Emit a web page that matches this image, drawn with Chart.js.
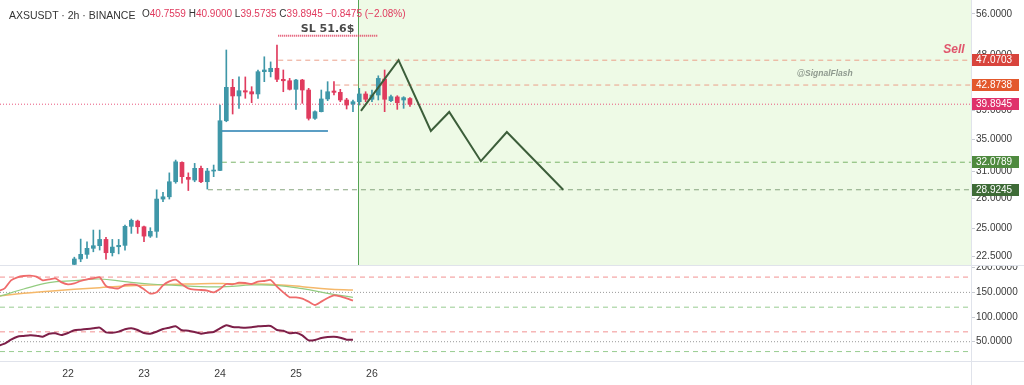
<!DOCTYPE html>
<html>
<head>
<meta charset="utf-8">
<script src="https://cdn.jsdelivr.net/npm/chart.js@4.4.1/dist/chart.umd.min.js"></script>
<style>
  body{margin:0;background:#fff;width:1024px;height:385px;overflow:hidden;position:relative;font-family:"Liberation Sans",Arial,sans-serif}
  canvas{position:absolute;left:0}
  #top{top:0}
  #bot{top:265px}
  .rule{position:absolute;background:#e0e3eb}
  #hdr{position:absolute;left:9px;top:8px;white-space:nowrap;color:#333;line-height:12px}
  #hdr .t{font-size:10.5px}
  #hdr .o{font-size:10px;position:absolute;left:133px;top:0}
  #hdr .o b{font-weight:normal;color:#e0395d}
</style>
</head>
<body>
<canvas id="top" width="1024" height="265"></canvas>
<canvas id="bot" width="1024" height="120"></canvas>
<div class="rule" style="left:0;top:265px;width:1024px;height:1px"></div>
<div class="rule" style="left:0;top:361px;width:1024px;height:1px"></div>
<div class="rule" style="left:971px;top:0;width:1px;height:385px"></div>
<div id="hdr"><span class="t">AXSUSDT · 2h · BINANCE</span><span class="o">O<b>40.7559</b> H<b>40.9000</b> L<b>39.5735</b> C<b>39.8945</b> <b>−0.8475 (−2.08%)</b></span></div>
<script>
// 2h candles, x = bar index counted from 22 Jan 00:00
const candleStart = 1;
const open  = [21.85,22.30,22.69,23.21,23.44,24.00,22.83,23.35,23.47,25.21,25.71,25.17,24.30,24.74,27.93,28.17,29.81,32.06,30.31,30.00,31.35,29.81,31.03,31.10,37.49,42.51,41.15,41.97,41.81,41.46,45.08,45.08,45.66,43.80,43.57,42.19,43.69,42.08,37.83,38.79,40.69,41.92,41.71,40.53,39.92,40.27,41.46,40.64,41.30,43.85,40.43,41.00,40.53,40.7559];
const high  = [22.45,24.03,23.79,24.86,24.86,24.18,24.00,24.00,25.33,25.91,25.81,25.24,25.08,28.92,28.65,30.82,32.34,32.13,30.82,31.94,31.62,31.35,31.74,39.77,48.91,43.80,44.20,44.20,42.61,45.37,47.68,46.77,49.84,45.37,43.96,43.80,43.80,42.35,38.93,42.08,43.42,43.42,42.19,40.79,40.53,42.35,41.81,42.08,44.39,45.37,41.30,41.19,41.04,40.90];
const low   = [21.75,22.07,22.35,22.91,23.06,22.29,22.55,22.73,23.06,24.55,24.55,23.79,24.18,24.18,27.65,27.93,29.64,29.64,28.84,29.81,29.70,29.00,30.38,31.07,37.35,38.45,39.28,40.79,40.12,40.79,43.42,44.20,43.42,41.81,42.08,39.13,40.03,37.59,37.69,38.75,40.43,41.30,40.27,39.18,38.79,39.77,40.27,40.27,40.53,38.79,40.27,39.13,39.28,39.5735];
const close = [22.30,22.69,23.21,23.44,24.00,22.83,23.32,23.47,25.21,25.78,25.17,24.30,24.74,27.93,28.17,29.81,32.13,30.38,30.08,31.35,29.81,31.03,31.15,37.49,42.51,41.15,41.97,41.76,41.46,45.08,45.37,45.66,43.80,43.57,42.19,43.69,42.08,37.83,38.79,40.69,41.81,41.71,40.53,39.77,40.27,41.46,40.64,41.30,43.96,40.64,41.04,40.12,40.89,39.8945];

const dayTicks  = [0,12,24,36,48];
const dayLabels = ['22','23','24','25','26'];
const priceTicks = [56,48,39,35,31,28,25,22.5];
const oscTicks = [200,150,100,50];

// lower pane, one value per bar from bar -11
const indStart = -11;
const rsi = [152.8,158.2,174.4,180.5,183.2,183.9,181.8,174.4,176.4,178.5,170.4,166.3,168.3,173.1,176.4,178.5,180.5,162.9,158.9,158.2,165.0,166.3,164.3,156.2,147.4,150.1,164.3,172.4,175.8,166.3,158.2,155.5,154.8,153.5,150.1,156.8,167.0,166.3,169.7,169.0,167.0,171.7,173.1,175.1,161.6,150.1,140.0,140.0,137.3,131.2,124.4,131.2,138.6,144.0,142.0,137.9,133.2];
const osc = [42.0,46.0,54.1,60.2,61.6,62.9,62.3,60.2,66.3,67.0,63.6,67.7,73.1,74.4,75.8,77.1,78.5,69.0,68.3,70.4,75.1,77.1,73.7,67.7,66.3,70.4,75.8,78.5,81.2,73.1,72.4,69.7,66.3,68.3,69.7,77.1,83.2,79.8,79.1,78.5,79.1,81.2,81.9,81.9,73.7,72.4,67.0,68.3,62.9,52.8,53.5,57.5,59.5,60.2,58.2,54.1,54.1];
const maX    = [-11,-7,-3,1,5,9,13,17,21,25,29,33,37,41,45];
const maFast = [141.3,156.8,169.7,173.7,177.1,171.7,167.0,164.3,161.6,161.6,165.0,164.3,157.5,148.1,140.0];
const maSlow = [142.7,148.1,152.1,156.2,159.6,162.9,165.0,166.3,167.7,167.7,167.0,165.6,161.6,156.8,154.8];
const oscUpper = [181,150,120];
const oscLower = [70,50,30];

// drawings
const zzX = [46.26,52.2,57.3,60.2,65.2,69.3,78.2];
const zzY = [38.9,47.07,36.07,38.75,32.2,35.93,28.92];
const slPrice = 51.6, slFrom = 33.2, slTo = 48.95;
const sellPrice = 47.0703, sellFrom = 33.2;
const midPrice = 42.8738, midFrom = 42.2;
const lastPrice = 39.8945;
const boxPrice = 36.07, boxFrom = 24.3, boxTo = 41.05;
const tp1Price = 32.0789, tp1From = 24.3;
const tp2Price = 28.9245, tp2From = 22.1;
const forecastStart = 45.8;
const tagValues = [47.0703,42.8738,39.8945,32.0789,28.9245];
const tagColors = ['#d8443c','#e3582c','#df326b','#4f8a3f','#3e6b37'];

const X_MIN = -10.74, X_MAX = 142.6;
const UP = '#3f97a8', DN = '#e03b5e';
const FONT = 'Liberation Sans';

const idx = open.map((_, k) => candleStart + k);
const colors = open.map((o, k) => close[k] >= o ? UP : DN);
const bodies = idx.map((x, k) => ({x, y: [Math.min(open[k], close[k]), Math.max(open[k], close[k])]}));
const wicks  = idx.map((x, k) => ({x, y: [low[k], high[k]]}));
const seg = (a, b, v) => [{x: a, y: v}, {x: b, y: v}];

function level(data, color, dash, width){
  return {type:'line', data, borderColor:color, borderDash:dash, borderWidth:width||1, pointRadius:0};
}

const shade = {
  id:'shade',
  beforeDatasetsDraw(chart){
    const {ctx, chartArea:a, scales:{x}} = chart;
    const px = x.getPixelForValue(forecastStart);
    ctx.save();
    ctx.fillStyle = '#eefae6';
    ctx.fillRect(px, a.top, a.right - px, a.bottom - a.top);
    ctx.strokeStyle = '#55a455';
    ctx.lineWidth = 1;
    ctx.beginPath(); ctx.moveTo(Math.round(px)+0.5, a.top); ctx.lineTo(Math.round(px)+0.5, a.bottom); ctx.stroke();
    ctx.restore();
  },
  afterDatasetsDraw(chart){
    const {ctx, scales:{x, y}} = chart;
    ctx.save();
    ctx.textBaseline = 'alphabetic';
    ctx.fillStyle = '#4a4a4a';
    ctx.font = 'bold 11px "DejaVu Sans"';
    ctx.textAlign = 'center';
    ctx.fillText('SL 51.6$', x.getPixelForValue(41), y.getPixelForValue(slPrice) - 4);
    ctx.textBaseline = 'middle';
    ctx.fillStyle = '#e0566d';
    ctx.font = 'italic bold 12px ' + FONT;
    ctx.textAlign = 'right';
    ctx.fillText('Sell', x.getPixelForValue(141.6), y.getPixelForValue(48.9));
    ctx.fillStyle = '#8f9a8f';
    ctx.font = 'italic bold 8.5px ' + FONT;
    ctx.textAlign = 'center';
    ctx.fillText('@SignalFlash', x.getPixelForValue(119.5), y.getPixelForValue(44.69));
    ctx.restore();
  }
};

const tags = {
  id:'tags',
  afterDraw(chart){
    const {ctx, chartArea:a, scales:{y}} = chart;
    ctx.save();
    ctx.font = '10px ' + FONT;
    ctx.textBaseline = 'middle';
    tagValues.forEach((v, k) => {
      const py = Math.round(y.getPixelForValue(v));
      ctx.fillStyle = tagColors[k];
      ctx.fillRect(a.right, py - 6, 48, 12);
      ctx.fillStyle = '#fff';
      ctx.fillText(v.toFixed(4), a.right + 5, py + 0.5);
    });
    ctx.restore();
  }
};

const yAxisFit = s => { s.width = 53; s.paddingTop = 0; s.paddingBottom = 0; };
const tickStyle = {color:'#3a3a3a', padding:1, autoSkip:false, font:{family:FONT, size:10}, callback: v => Number(v).toFixed(4)};
const yGrid = {drawOnChartArea:false, tickLength:4, tickColor:'#c9ccd3'};

new Chart(document.getElementById('top'), {
  type:'bar',
  data:{datasets:[
    {type:'line', data: zzX.map((x, k) => ({x, y: zzY[k]})), borderColor:'#3c5e3a', borderWidth:2, pointRadius:0},
    {data: bodies, backgroundColor: colors, barThickness:4, grouped:false, minBarLength:1, borderWidth:0},
    {data: wicks, backgroundColor: colors, barThickness:1, grouped:false, borderWidth:0},
    level(seg(slFrom, slTo, slPrice), '#e0405f', [1,1], 2),
    level(seg(sellFrom, X_MAX, sellPrice), '#eba08a', [5,4]),
    level(seg(midFrom, X_MAX, midPrice), '#eba08a', [5,4]),
    level(seg(X_MIN, X_MAX, lastPrice), '#e8577d', [1,2]),
    level(seg(boxFrom, boxTo, boxPrice), '#5b9ec4', [], 2),
    level(seg(tp1From, X_MAX, tp1Price), '#7cb56a', [5,4]),
    level(seg(tp2From, X_MAX, tp2Price), '#86a47e', [5,4])
  ]},
  options:{
    responsive:false, animation:false, devicePixelRatio:1,
    layout:{padding:0},
    plugins:{legend:{display:false}, tooltip:{enabled:false}},
    scales:{
      x:{type:'linear', min:X_MIN, max:X_MAX, display:false, offset:false},
      y:{type:'logarithmic', position:'right', min:21.8, max:59.02,
         afterBuildTicks: s => { s.ticks = priceTicks.map(v => ({value:v})); },
         afterFit: yAxisFit, grid: yGrid, border:{display:false}, ticks: tickStyle}
    }
  },
  plugins:[shade, tags]
});

const oscLevels = [];
oscUpper.concat(oscLower).forEach((v, k) => {
  const kind = k % 3;
  const col = kind === 0 ? '#f29191' : kind === 1 ? '#9a9a9a' : '#98cc90';
  oscLevels.push(level(seg(X_MIN, X_MAX, v), col, kind === 1 ? [1,2] : [5,4]));
});
const series = arr => arr.map((v, k) => ({x: indStart + k, y: v}));

new Chart(document.getElementById('bot'), {
  type:'line',
  data:{datasets:[
    {data: series(rsi), borderColor:'#ef6b6b', borderWidth:1.8, pointRadius:0, tension:0.2},
    {data: maX.map((x, k) => ({x, y: maFast[k]})), borderColor:'#93cc80', borderWidth:1.2, pointRadius:0, tension:0.4},
    {data: maX.map((x, k) => ({x, y: maSlow[k]})), borderColor:'#f5b86a', borderWidth:1.5, pointRadius:0, tension:0.4},
    {data: series(osc), borderColor:'#7d1f48', borderWidth:2, pointRadius:0, tension:0.2},
    ...oscLevels
  ]},
  options:{
    responsive:false, animation:false, devicePixelRatio:1,
    layout:{padding:0},
    plugins:{legend:{display:false}, tooltip:{enabled:false}},
    scales:{
      x:{type:'linear', min:X_MIN, max:X_MAX, offset:false,
         afterBuildTicks: s => { s.ticks = dayTicks.map(v => ({value:v})); },
         afterFit: s => { s.height = 24; s.paddingLeft = 0; s.paddingRight = 0; },
         grid:{display:false}, border:{display:false},
         ticks:{color:'#3a3a3a', padding:-1, maxRotation:0, autoSkip:false, font:{family:FONT, size:10.5},
                callback: (v, i) => dayLabels[i]}},
      y:{type:'linear', position:'right', min:10.9, max:205.5,
         afterBuildTicks: s => { s.ticks = oscTicks.map(v => ({value:v})); },
         afterFit: yAxisFit, grid: yGrid, border:{display:false}, ticks: tickStyle}
    }
  }
});
</script>
</body>
</html>
